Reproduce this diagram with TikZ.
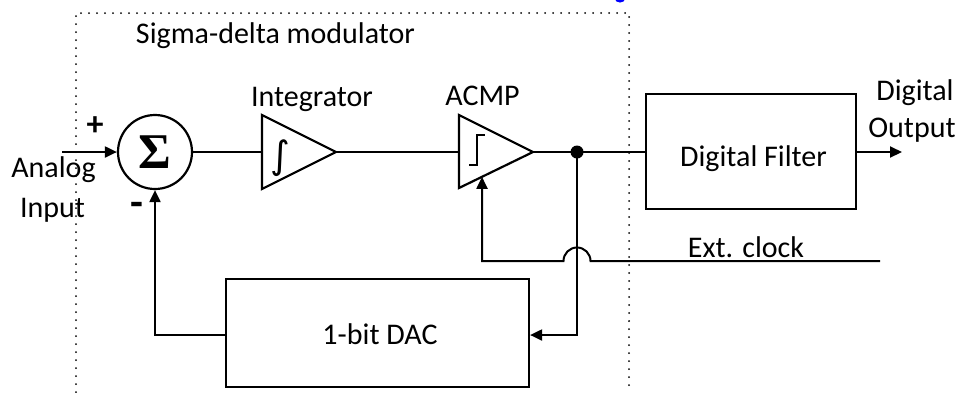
\documentclass[tikz,border=0pt]{standalone}
\usepackage{fontspec}
\setmainfont{Carlito}
\newfontfamily\sigmafont{Liberation Serif}
\newfontfamily\symfont{DejaVu Sans}
\usetikzlibrary{arrows.meta,calc}
\begin{document}
\begin{tikzpicture}[x=1pt,y=-1pt, line width=2pt,
  lbl/.style={font=\fontsize{30}{34}\selectfont, inner sep=0pt, anchor=base},
  blk/.style={draw, inner sep=0pt, line width=2.2pt},
  arr/.style={-{Triangle[length=12pt,width=11pt]}},
  frame/.style={line width=2pt, dash pattern=on 0pt off 8pt, line cap=round},
  tri/.style={draw, line width=2.2pt, line join=miter}]
\useasboundingbox (0,0) rectangle (958,392);
% stray blue fragment at top
\begin{scope}
  \clip (0,0) rectangle (958,392);
  \fill[blue] (620,-1) ellipse [x radius=5, y radius=3.5];
\end{scope}
% dotted frame
\coordinate (fBL) at (76,392);
\coordinate (fTL) at (76,13);
\coordinate (fTR) at (629,13);
\coordinate (fBR) at (629,392);
\draw[frame] (fBL) -- (fTL) -- (fTR) -- (fBR);
\node[lbl] (title) at (275.5,43) {Sigma-delta modulator};
% summing junction
\node[draw, circle, minimum size=74pt, inner sep=0pt, line width=2.2pt] (sum) at (155,152) {};
\node[inner sep=0pt] (sigma) at (sum.center) {\sigmafont\bfseries\fontsize{50}{50}\selectfont Σ};
\coordinate (in) at (62,152);
\draw[arr] (in) -- (sum.west);
\node[lbl, font=\fontsize{34}{36}\selectfont\bfseries] (plus) at (95,135) {+};
\node[lbl, font=\fontsize{42}{44}\selectfont\bfseries] (minus) at (136.5,216) {-};
\node[lbl] (analog) at (53.5,177) {Analog};
\node[lbl] (input) at (52.5,217) {Input};
% integrator
\coordinate (intL) at (262,152);
\coordinate (intT) at (262,115);
\coordinate (intB) at (262,189);
\coordinate (intTip) at (336,152);
\draw[tri] (intT) -- (intTip) -- (intB) -- cycle;
\node[inner sep=0pt] (integral) at (280,158) {\symfont\fontsize{38}{40}\selectfont ∫};
\node[lbl] (intlbl) at (312,106) {Integrator};
% comparator
\coordinate (acL) at (459,152);
\coordinate (acT) at (459,115);
\coordinate (acB) at (459,188);
\coordinate (acTip) at (533,152);
\draw[tri] (acT) -- (acTip) -- (acB) -- cycle;
\coordinate (st1) at (469,165);
\coordinate (st2) at (477,165);
\coordinate (st3) at (477,135);
\coordinate (st4) at (485,135);
\draw[line width=1.8pt] (st1) -- (st2) -- (st3) -- (st4);
\node[lbl] (aclbl) at (482.5,105) {ACMP};
\coordinate (acIn) at ($(acB)!0.311!(acTip)$);
% digital filter
\node[blk, minimum width=210pt, minimum height=115pt] (df) at (751,151.5) {};
\node[lbl] (dflbl) at (753.5,166) {Digital Filter};
\coordinate (out) at (902,152);
\draw[arr] (df.east |- out) -- (out);
\node[lbl] (dout1) at (915,100) {Digital};
\node[lbl] (dout2) at (912,137) {Output};
% DAC
\node[blk, minimum width=303pt, minimum height=108pt] (dac) at (377.5,333) {};
\node[lbl] (daclbl) at (380,344) {1-bit DAC};
% signal path
\draw (sum.east) -- (intL);
\draw (intTip) -- (acL);
\coordinate (junc) at (577,152);
\draw (acTip) -- (df.west |- acTip);
\fill (junc) circle (6.5);
\draw[arr] (junc) |- ([yshift=-2pt]dac.east);
\draw[arr] ([yshift=-2pt]dac.west) -| (sum.south);
% clock
\coordinate (clk) at (880,261);
\coordinate (clkCorner) at (acIn |- clk);
\draw[arr] (clk) -- ([xshift=13.5pt]junc |- clk) arc[start angle=0, end angle=-180, radius=13.5] -- (clkCorner) -- (acIn);
\node[lbl] (clklbl) at (746,257) {Ext. clock};
\end{tikzpicture}
\end{document}
